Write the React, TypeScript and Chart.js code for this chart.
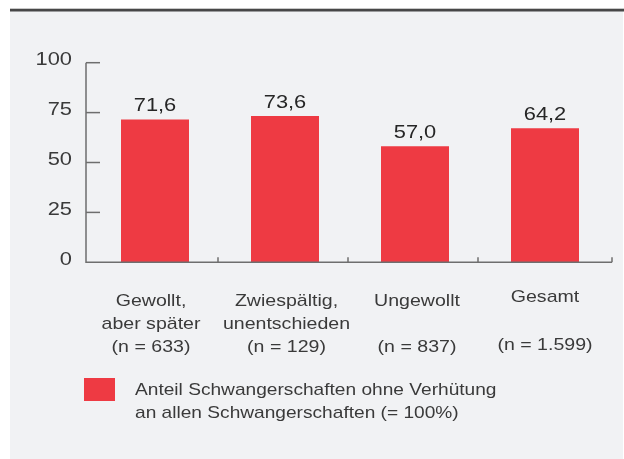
import React, { useEffect, useRef } from "react";
import { Chart, registerables } from "chart.js";

Chart.register(...registerables);

const categoryLines: string[][] = [
  ["Gewollt,", "aber später", "(n = 633)"],
  ["Zwiespältig,", "unentschieden", "(n = 129)"],
  ["Ungewollt", "", "(n = 837)"],
  ["Gesamt", "", "(n = 1.599)"],
];
// bar heights as drawn in the picture
const values: number[] = [71.6, 73.3, 58.1, 67.1];
// printed value labels
const valueLabels: string[] = ["71,6", "73,6", "57,0", "64,2"];
const yTicks: number[] = [0, 25, 50, 75, 100];
const legendLines: string[] = [
  "Anteil Schwangerschaften ohne Verhütung",
  "an allen Schwangerschaften (= 100%)",
];

const BAR = "#ee3a43";
const TEXT = "#3a3a3a";
const AXIS = "#6e6e6e";
const SX = 1.15;
const FONT = '"Liberation Sans", Arial, Helvetica, sans-serif';

function sText(ctx: CanvasRenderingContext2D, t: string, x: number, y: number, align: CanvasTextAlign, sx = SX) {
  ctx.save();
  ctx.translate(x, y);
  ctx.scale(sx, 1);
  ctx.textAlign = align;
  ctx.fillText(t, 0, 0);
  ctx.restore();
}

const decor = {
  id: "decor",
  beforeDraw(chart: any) {
    const ctx = chart.ctx as CanvasRenderingContext2D;
    ctx.save();
    ctx.fillStyle = "#ffffff";
    ctx.fillRect(0, 0, chart.width, chart.height);
    ctx.fillStyle = "#f1f2f4";
    ctx.fillRect(10, 11, chart.width - 11, chart.height - 11);
    ctx.fillStyle = "#c8c8c8";
    ctx.fillRect(10, 8, chart.width - 10, 1);
    ctx.fillStyle = "#474747";
    ctx.fillRect(10, 9, chart.width - 10, 2.5);
    ctx.restore();
  },
  afterDatasetsDraw(chart: any) {
    const ctx = chart.ctx as CanvasRenderingContext2D;
    const xs = chart.scales.x;
    const ys = chart.scales.y;
    const a = chart.chartArea;
    const axL = a.left - 4;
    const axR = a.right + 2;
    ctx.save();
    // axes
    ctx.strokeStyle = AXIS;
    ctx.lineWidth = 1.5;
    ctx.beginPath();
    ctx.moveTo(axL, a.top);
    ctx.lineTo(axL, a.bottom);
    ctx.lineTo(axR, a.bottom);
    ctx.stroke();
    // y ticks
    yTicks.forEach((v) => {
      const y = ys.getPixelForValue(v);
      if (v !== 0) {
        ctx.beginPath();
        ctx.moveTo(axL, y);
        ctx.lineTo(axL + 14, y);
        ctx.stroke();
      }
    });
    // x ticks (category boundaries)
    const n = values.length;
    for (let i = 0; i < n; i++) {
      const bx = i < n - 1 ? (xs.getPixelForValue(i) + xs.getPixelForValue(i + 1)) / 2 - 2 : axR;
      ctx.beginPath();
      ctx.moveTo(bx, a.bottom);
      ctx.lineTo(bx, a.bottom - 5);
      ctx.stroke();
    }
    // y labels
    ctx.fillStyle = TEXT;
    ctx.font = `19px ${FONT}`;
    ctx.textBaseline = "middle";
    yTicks.forEach((v) => {
      sText(ctx, String(v), 72, ys.getPixelForValue(v) - 2.5, "right");
    });
    // value labels
    ctx.fillStyle = "#262626";
    ctx.textBaseline = "alphabetic";
    const meta = chart.getDatasetMeta(0);
    meta.data.forEach((bar: any, i: number) => {
      sText(ctx, valueLabels[i], bar.x, bar.y - 8, "center");
    });
    // x labels
    ctx.fillStyle = TEXT;
    ctx.font = `17px ${FONT}`;
    ctx.textBaseline = "middle";
    const dx = [-4, 1.5, 2, 0];
    const dy = [0, 0, 0, -4];
    categoryLines.forEach((lines, i) => {
      const cx = xs.getPixelForValue(i) + dx[i];
      lines.forEach((t, j) => {
        if (t) sText(ctx, t, cx, a.bottom + 39.5 + j * 23 + (j === 0 ? dy[i] * 1.2 : dy[i] * 0.6), "center");
      });
    });
    // legend
    ctx.fillStyle = BAR;
    ctx.fillRect(84, 378, 31, 23);
    ctx.fillStyle = TEXT;
    legendLines.forEach((t, j) => {
      sText(ctx, t, 135, 390 + j * 23, "left", 1.125);
    });
    ctx.restore();
  },
};

export default function App() {
  const ref = useRef<HTMLCanvasElement>(null);
  useEffect(() => {
    document.body.style.margin = "0";
    const chart = new Chart(ref.current!, {
      type: "bar",
      data: {
        labels: categoryLines.map((c) => c[0]),
        datasets: [
          {
            data: values,
            backgroundColor: BAR,
            borderWidth: 0,
            barPercentage: 68 / 130,
            categoryPercentage: 1,
          },
        ],
      },
      options: {
        responsive: false,
        animation: false,
        devicePixelRatio: 1,
        layout: { padding: { left: 90, right: 14, top: 62.7, bottom: 459 - 262.3 } },
        plugins: { legend: { display: false }, tooltip: { enabled: false } },
        scales: {
          x: { display: false },
          y: { display: false, min: 0, max: 100 },
        },
      },
      plugins: [decor],
    });
    return () => chart.destroy();
  }, []);
  return <canvas ref={ref} width={624} height={459} style={{ display: "block", width: 624, height: 459 }} />;
}
